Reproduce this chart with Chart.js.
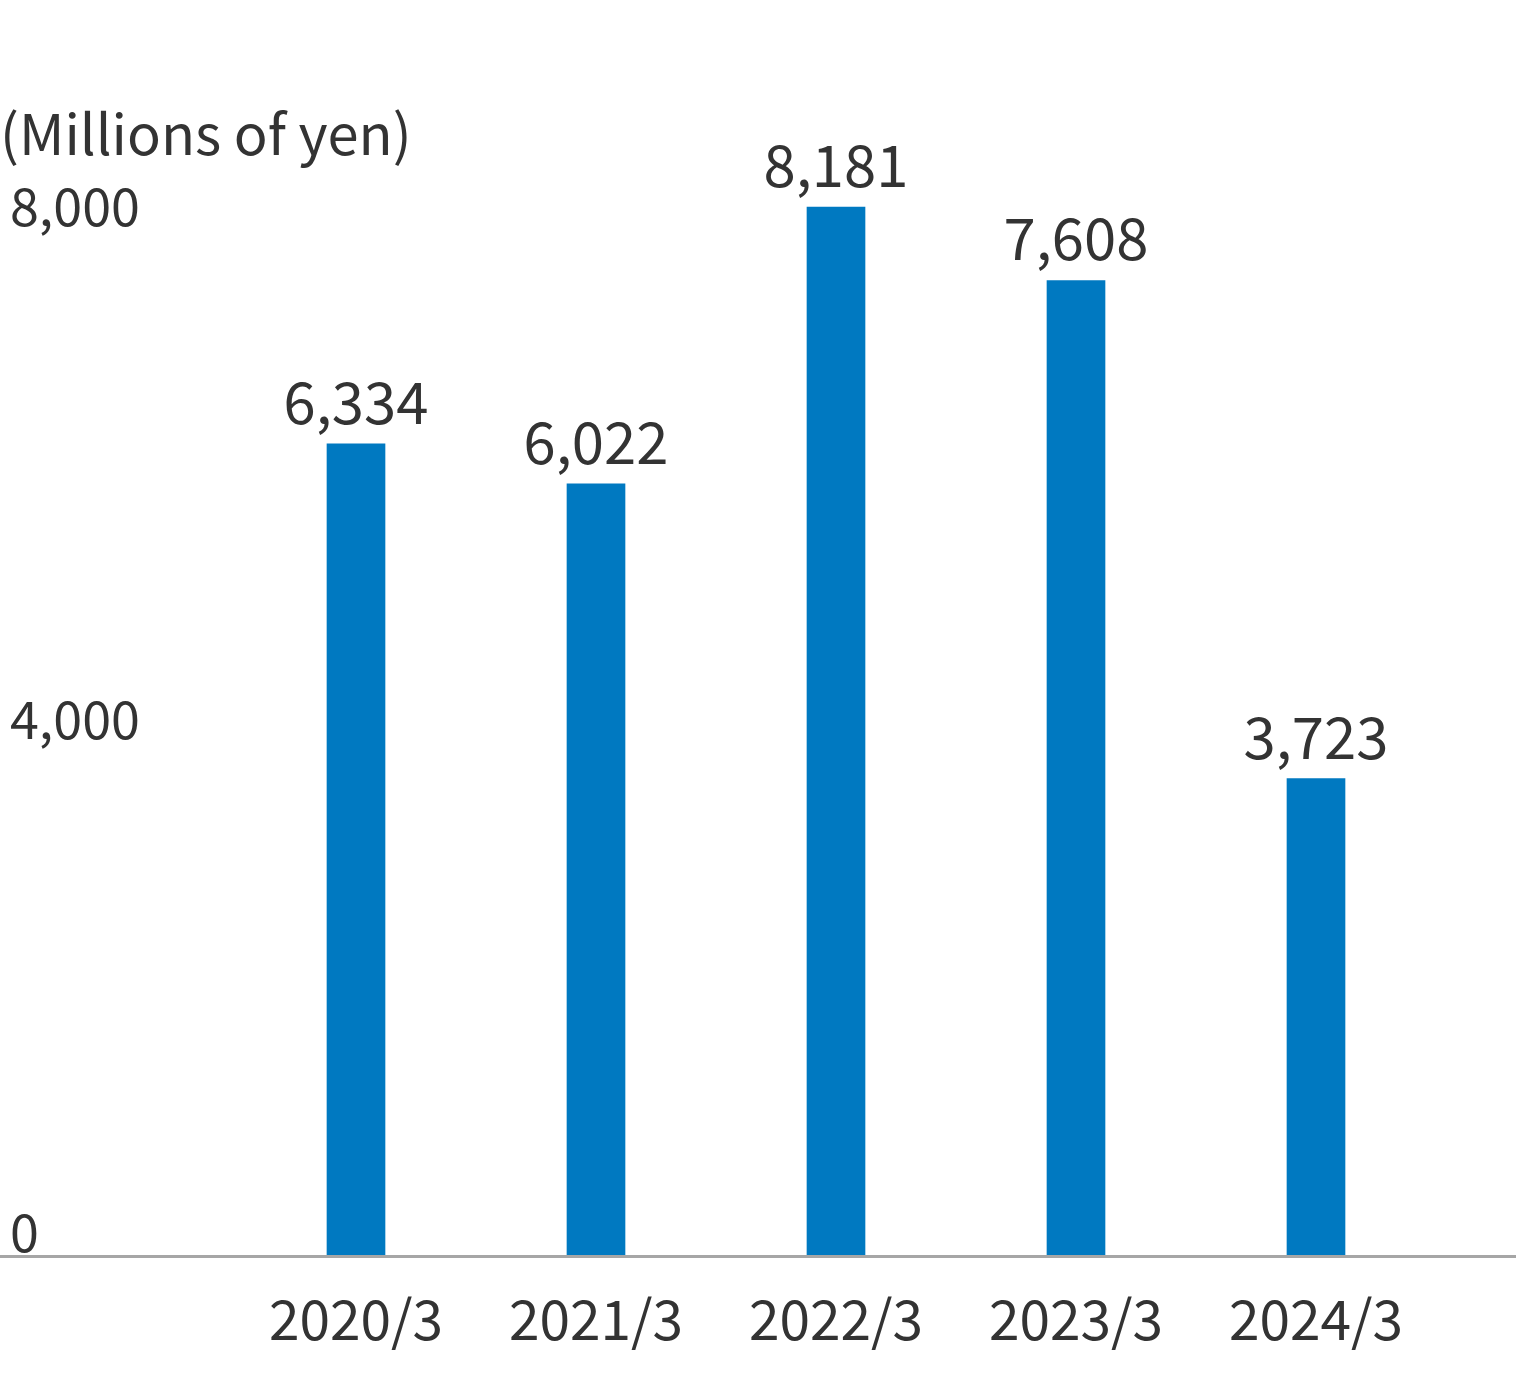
<!DOCTYPE html>
<html><head><meta charset="utf-8">
<script src="https://cdn.jsdelivr.net/npm/chart.js@4.4.1/dist/chart.umd.min.js"></script>
<style>html,body{margin:0;padding:0;background:#fff;}#wrap{width:1516px;height:1390px;}</style>
</head><body><div id="wrap"><canvas id="c" width="1516" height="1390"></canvas></div>
<script>
const categories = ["2020/3", "2021/3", "2022/3", "2023/3", "2024/3"];
const values = [6334, 6022, 8181, 7608, 3723];
const tickValues = [0, 4000, 8000];
const unitLabel = "(Millions of yen)";

const FONT = "'Noto Sans CJK JP', 'Noto Sans', sans-serif";
const TEXT = "#333333";

const extras = {
  id: 'extras',
  afterDatasetsDraw(chart) {
    const ctx = chart.ctx;
    const meta = chart.getDatasetMeta(0);
    ctx.save();
    ctx.fillStyle = TEXT;
    ctx.font = "58px " + FONT;
    ctx.textAlign = 'center';
    ctx.textBaseline = 'alphabetic';
    meta.data.forEach((bar, i) => {
      ctx.fillText(values[i].toLocaleString('en-US'), bar.x, bar.y - 20);
    });
    ctx.font = "56px " + FONT;
    ctx.textAlign = 'left';
    ctx.textBaseline = 'middle';
    ctx.fillText(unitLabel, 0, 134);
    // baseline across full width
    const y0 = chart.scales.y.getPixelForValue(0);
    ctx.strokeStyle = '#a6a6a6';
    ctx.lineWidth = 3;
    ctx.beginPath();
    ctx.moveTo(0, y0 + 0.5);
    ctx.lineTo(chart.width, y0 + 0.5);
    ctx.stroke();
    ctx.restore();
  }
};

new Chart(document.getElementById('c'), {
  type: 'bar',
  data: {
    labels: categories,
    datasets: [{
      data: values,
      backgroundColor: '#0079c1',
      barThickness: 58,
      borderWidth: 0
    }]
  },
  options: {
    responsive: false,
    animation: false,
    layout: { padding: { top: 102, right: 80, left: 10, bottom: 0 } },
    plugins: { legend: { display: false }, tooltip: { enabled: false } },
    scales: {
      x: {
        grid: { display: false, drawTicks: false },
        border: { display: false },
        ticks: { color: TEXT, font: { family: FONT, size: 55 }, padding: 30, maxRotation: 0 },
        afterFit(s) { s.height = 134; }
      },
      y: {
        min: 0, max: 9000,
        grid: { display: false, drawTicks: false },
        border: { display: false },
        afterBuildTicks(s) { s.ticks = tickValues.map(v => ({ value: v })); },
        ticks: {
          color: TEXT, font: { family: FONT, size: 52 },
          crossAlign: 'far', padding: 0, labelOffset: -24,
          callback: v => v.toLocaleString('en-US')
        },
        afterFit(s) { s.width = 226; }
      }
    }
  },
  plugins: [extras]
});
</script></body></html>
